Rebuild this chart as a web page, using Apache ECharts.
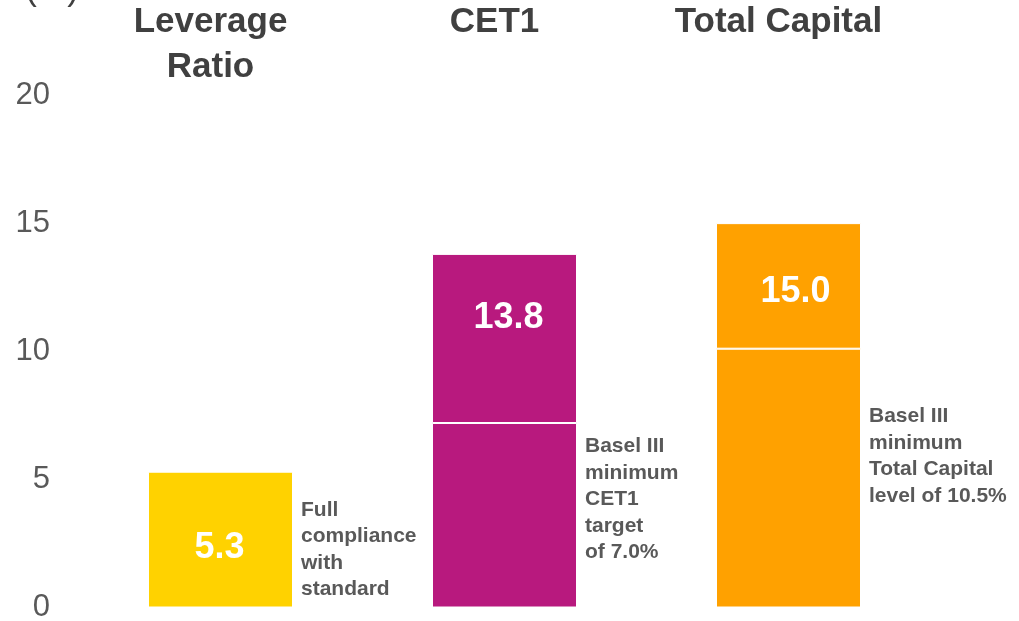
<!DOCTYPE html>
<html>
<head>
<meta charset="utf-8">
<script src="https://cdn.jsdelivr.net/npm/echarts@6/dist/echarts.min.js"></script>
<style>
  html, body { margin: 0; padding: 0; background: #fff; }
  #chart { width: 1019px; height: 621px; }
</style>
</head>
<body>
<div id="chart"></div>
<script>
// categories and values
const categories = ['Leverage\nRatio', 'CET1', 'Total Capital']
const totals = [5.3, 13.8, 15.0]
const baseValues = [5.3, 7.2, 10.1]      // lower part (up to the white line)
const upperValues = ['-', 6.6, 4.9]      // part above the white line
const notes = [
  ['Full', 'compliance', 'with', 'standard'],
  ['Basel III', 'minimum', 'CET1', 'target', 'of 7.0%'],
  ['Basel III', 'minimum', 'Total Capital', 'level of 10.5%']
]
const yTicks = [0, 5, 10, 15, 20]

const colors = ['#FFD200', '#B8197E', '#FFA100']
const noteOffsets = [[0, 10], [0, 69], [0, 41]]
const font = 'Liberation Sans, Arial, sans-serif'

const chart = echarts.init(document.getElementById('chart'))

const option = {
  animation: false,
  grid: {
    left: 78.5, right: 88.5, top: 95, bottom: 13.5,
    containLabel: false,
    outerBoundsMode: 'none'
  },
  xAxis: {
    type: 'category',
    position: 'top',
    data: categories,
    axisLine: { show: false },
    axisTick: { show: false },
    axisLabel: {
      interval: 0,
      margin: 95.5,
      verticalAlign: 'top',
      fontFamily: font,
      fontSize: 35,
      fontWeight: 'bold',
      lineHeight: 45,
      color: '#404040',
      padding: [0, 20, 0, 0]
    }
  },
  yAxis: {
    type: 'value',
    min: yTicks[0],
    max: yTicks[yTicks.length - 1],
    interval: 5,
    name: '(%)',
    nameLocation: 'end',
    nameGap: 87.5,
    nameTextStyle: {
      align: 'right',
      verticalAlign: 'bottom',
      fontFamily: font,
      fontSize: 34,
      color: '#404040'
    },
    axisLine: { show: false },
    axisTick: { show: false },
    splitLine: { show: false },
    axisLabel: {
      margin: 28.5,
      fontFamily: font,
      fontSize: 31,
      color: '#595959'
    }
  },
  series: [
    {
      name: 'base',
      type: 'bar',
      stack: 'total',
      barWidth: 145,
      data: baseValues.map((v, i) => ({
        value: v,
        itemStyle: { color: colors[i], borderColor: '#fff', borderWidth: 1 },
        label: i === 0 ? {
          show: true,
          position: 'inside',
          offset: [-1, 8],
          formatter: () => totals[i].toFixed(1),
          fontFamily: font,
          fontSize: 36,
          fontWeight: 'bold',
          color: '#fff'
        } : { show: false }
      }))
    },
    {
      name: 'upper',
      type: 'bar',
      stack: 'total',
      barWidth: 145,
      data: upperValues.map((v, i) => ({
        value: v,
        itemStyle: { color: colors[i], borderColor: '#fff', borderWidth: 1 },
        label: {
          show: true,
          position: 'inside',
          offset: i === 1 ? [4, -20] : [7, 6],
          formatter: () => totals[i].toFixed(1),
          fontFamily: font,
          fontSize: 36,
          fontWeight: 'bold',
          color: '#fff'
        }
      }))
    },
    {
      // transparent overlay carrying the side notes
      name: 'notes',
      type: 'bar',
      barWidth: 145,
      barGap: '-100%',
      silent: true,
      itemStyle: { color: 'rgba(0,0,0,0)' },
      data: totals.map((v, i) => ({
        value: v,
        label: {
          show: true,
          position: 'right',
          distance: 8,
          offset: noteOffsets[i],
          align: 'left',
          formatter: () => notes[i].join('\n'),
          fontFamily: font,
          fontSize: 21,
          fontWeight: 'bold',
          lineHeight: 26.5,
          color: '#595959'
        }
      }))
    }
  ]
}

chart.setOption(option)
</script>
</body>
</html>
